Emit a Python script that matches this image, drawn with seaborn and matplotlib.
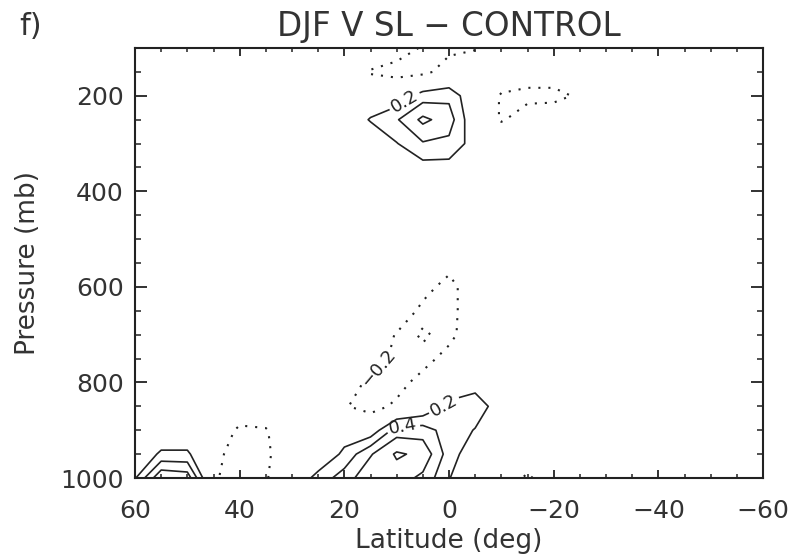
import numpy as np
import matplotlib
matplotlib.use("Agg")
import matplotlib.pyplot as plt
from matplotlib.ticker import MultipleLocator
import seaborn as sns

# Grid: latitude columns (deg, north to south) and pressure rows (mb)
lats = [60, 55, 50, 45, 40, 35, 30, 25, 20, 15, 10, 5, 0,
        -5, -10, -15, -20, -25, -30, -35, -40, -45, -50, -55, -60]
plev = [100, 150, 200, 250, 300, 350, 400, 450, 500, 550,
        600, 650, 700, 750, 800, 850, 900, 950, 1000]

# DJF meridional wind difference (SL - CONTROL), m/s, one row per pressure level
#          60    55    50    45    40    35    30    25    20    15    10     5     0    -5   -10   -15   -20   -25  -30 -35 -40 -45 -50 -55 -60
v100  = [0,    0,    0,    0,    0,    0,    0,    0,    0,    0, -0.10, -0.22, -0.25, -0.22, -0.05, 0,   0,     0,    0, 0, 0, 0, 0, 0, 0]
v150  = [0,    0,    0,    0,    0,    0,    0,    0,    0, -0.22, -0.28, -0.26, -0.10, 0, -0.05, -0.10, -0.08, -0.03, 0, 0, 0, 0, 0, 0, 0]
v200  = [0,    0,    0,    0,    0,    0,    0,    0,    0,    0,  0.05,  0.30,  0.35, 0, -0.22, -0.25, -0.26, -0.17, 0, 0, 0, 0, 0, 0, 0]
v250  = [0,    0,    0,    0,    0,    0,    0,    0,    0,  0.22, 0.38,  0.65,  0.50, 0, -0.22, -0.10, -0.05,  0,    0, 0, 0, 0, 0, 0, 0]
v300  = [0,    0,    0,    0,    0,    0,    0,    0,    0,    0,  0.19,  0.38,  0.35, 0.10, 0,  0,     0,     0,    0, 0, 0, 0, 0, 0, 0]
v350  = [0,    0,    0,    0,    0,    0,    0,    0,    0,    0,  0,     0.12,  0.12, 0,    0,  0,     0,     0,    0, 0, 0, 0, 0, 0, 0]
v400  = [0] * 25
v450  = [0] * 25
v500  = [0] * 25
v550  = [0,    0,    0,    0,    0,    0,    0,    0,    0,    0,  0,     0,    -0.10, 0,    0,  0,     0,     0,    0, 0, 0, 0, 0, 0, 0]
v600  = [0,    0,    0,    0,    0,    0,    0,    0,    0,    0,  0,    -0.10, -0.30, 0,    0,  0,     0,     0,    0, 0, 0, 0, 0, 0, 0]
v650  = [0,    0,    0,    0,    0,    0,    0,    0,    0,    0,  0,    -0.27, -0.30, 0,    0,  0,     0,     0,    0, 0, 0, 0, 0, 0, 0]
v700  = [0,    0,    0,    0,    0,    0,    0,    0,    0,    0, -0.22, -0.45, -0.28, 0,    0,  0,     0,     0,    0, 0, 0, 0, 0, 0, 0]
v750  = [0,    0,    0,    0,    0,    0,    0,    0,    0,    0, -0.30, -0.30, -0.10, 0,    0,  0,     0,     0,    0, 0, 0, 0, 0, 0, 0]
v800  = [0,    0,    0,    0,    0,    0,    0,    0,    0, -0.28, -0.30, -0.10, 0.05, 0.12, 0,  0,     0,     0,    0, 0, 0, 0, 0, 0, 0]
v850  = [0,    0,    0,    0,    0,    0,    0,    0, -0.18, -0.30, -0.15, 0,    0.25, 0.30, 0.10, 0,   0,     0,    0, 0, 0, 0, 0, 0, 0]
v900  = [0,    0,    0,    0, -0.25, -0.22,  0,    0,  0.08,  0.05,  0.50, 0.50, 0.30, 0.19, 0,  0,     0,     0,    0, 0, 0, 0, 0, 0, 0]
v950  = [0,  0.24, 0.24, -0.10, -0.35, -0.25, 0,   0,  0.25,  0.58,  0.83, 0.75, 0.30, 0.05, 0,  0,     0,     0,    0, 0, 0, 0, 0, 0, 0]
v1000 = [0.18, 0.78, 0.72, -0.16, -0.35, -0.22, 0, 0.28, 0.50, 0.75,  0.70, 0.55, 0.21, 0,    0, -0.25,  0,     0,    0, 0, 0, 0, 0, 0, 0]

pos_levels = [0.2, 0.4, 0.6, 0.8]
neg_outer_level = [-0.2]
neg_inner_level = [-0.4]

title = "DJF V SL \u2212 CONTROL"
panel = "f)"
xlabel = "Latitude (deg)"
ylabel = "Pressure (mb)"
xticks = [60, 40, 20, 0, -20, -40, -60]
yticks = [200, 400, 600, 800, 1000]

field = np.array([v100, v150, v200, v250, v300, v350, v400, v450, v500, v550,
                  v600, v650, v700, v750, v800, v850, v900, v950, v1000])

sns.set_style("ticks")
plt.rcParams["font.family"] = ["DejaVu Sans"]
ink = "#222222"
text_ink = "#333333"
dots = [(0, (1, 3.8))]

fig = plt.figure(figsize=(8.07, 5.59), dpi=100)
ax = fig.add_axes([135 / 807, 1 - 478 / 559, 628 / 807, 430 / 559])

pos = ax.contour(lats, plev, field, levels=pos_levels, colors=ink,
                 linewidths=1.2)
neg = ax.contour(lats, plev, field, levels=neg_outer_level, colors=ink,
                 linewidths=1.5, linestyles=dots)
ax.contour(lats, plev, field, levels=neg_inner_level, colors=ink,
           linewidths=1.5, linestyles=dots)


def fmt(v):
    return f"{v:.1f}".replace("-", "\u2212")


ax.clabel(pos, levels=[0.2, 0.4], fmt=fmt, fontsize=13, inline=True,
          inline_spacing=3, manual=[(8.5, 211), (0.5, 852), (8.8, 893)])
ax.clabel(neg, fmt=fmt, fontsize=13, inline=True,
          inline_spacing=3, manual=[(13.2, 772)])

ax.set_xlim(60, -60)
ax.set_ylim(1000, 100)
ax.set_xticks(xticks)
ax.set_xticklabels([str(t).replace("-", "\u2212") for t in xticks])
ax.set_yticks(yticks)
ax.xaxis.set_minor_locator(MultipleLocator(5))
ax.yaxis.set_minor_locator(MultipleLocator(50))

ax.tick_params(axis="x", which="major", direction="in", length=6, width=1.3,
               top=True, bottom=True, labelsize=18, pad=15, color=ink,
               labelcolor=text_ink)
ax.tick_params(axis="x", which="minor", direction="in", length=3, width=1.1,
               top=True, bottom=True, color=ink)
ax.tick_params(axis="y", which="major", direction="in", length=8.5, width=1.3,
               left=True, right=True, labelsize=18, pad=8, color=ink,
               labelcolor=text_ink)
ax.tick_params(axis="y", which="minor", direction="in", length=4.5, width=1.1,
               left=True, right=True, color=ink)

for sp in ax.spines.values():
    sp.set_linewidth(1.5)
    sp.set_color(ink)
    sp.set_visible(True)

ax.set_xlabel(xlabel, fontsize=19, color=text_ink, labelpad=4)
ax.set_ylabel(ylabel, fontsize=19, color=text_ink, labelpad=14)

fig.text(449 / 807, 1 - 36 / 559, title, ha="center", va="baseline",
         fontsize=23.5, color=text_ink)
fig.text(19 / 807, 1 - 12 / 559, panel, ha="left", va="top",
         fontsize=22, color=text_ink)

fig.savefig("out.png", dpi=100, facecolor="white")
